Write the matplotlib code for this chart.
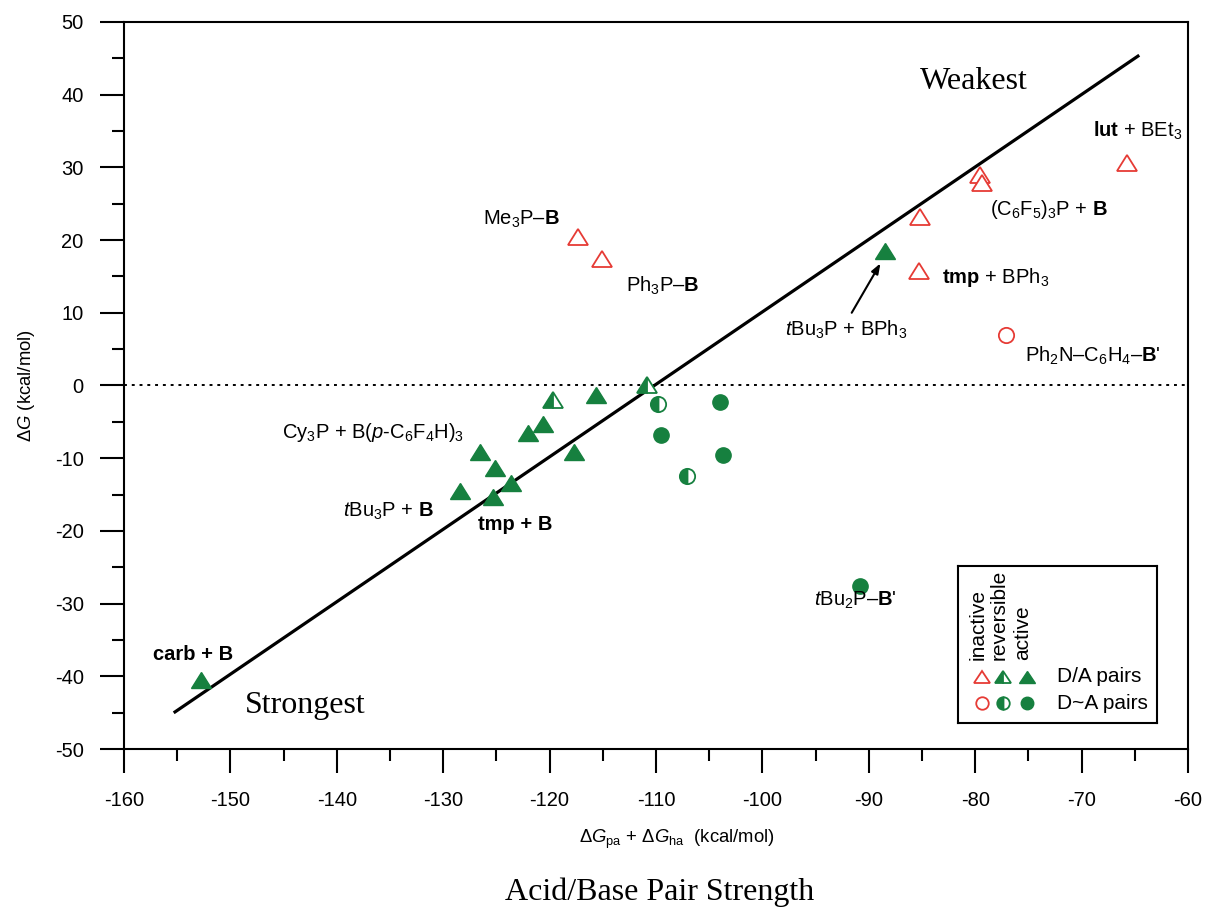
import matplotlib
matplotlib.use("Agg")
import matplotlib.pyplot as plt
from matplotlib.markers import MarkerStyle
from matplotlib.transforms import Affine2D

#--------------------------------------------------------
# data

# D/A pairs (triangles)
inactiveDA_x = [-117.3, -115.1, -85.2, -79.5, -79.4, -65.7, -85.3]
inactiveDA_y = [20.4, 17.4, 23.2, 29.0, 27.9, 30.6, 15.7]

reversibleDA_x = [-119.7, -110.8]
reversibleDA_y = [-2.0, 0.1]

activeDA_x = [-88.5, -115.6, -120.6, -122.0, -126.5, -117.7, -125.1, -123.6, -128.4, -125.3, -152.8]
activeDA_y = [18.5, -1.3, -5.3, -6.6, -9.2, -9.2, -11.4, -13.4, -14.5, -15.4, -40.5]

# D~A pairs (circles)
inactiveDtA_x = [-77.1]
inactiveDtA_y = [6.9]

reversibleDtA_x = [-109.8, -107.1]
reversibleDtA_y = [-2.5, -12.4]

activeDtA_x = [-109.5, -104.0, -103.7, -90.8]
activeDtA_y = [-6.8, -2.3, -9.6, -27.6]

# correlation line
line_x = [-155.2, -64.7]
line_y = [-44.9, 45.3]

xTicks = list(range(-160, -59, 10))
yTicks = list(range(-50, 51, 10))

#--------------------------------------------------------

green = "#16803f"
red = "#e63b35"

plt.rcParams['font.family'] = ['Liberation Sans', 'DejaVu Sans']
plt.rcParams['axes.unicode_minus'] = False
plt.rcParams['mathtext.fontset'] = 'custom'
plt.rcParams['mathtext.rm'] = 'Liberation Sans'
plt.rcParams['mathtext.it'] = 'Liberation Sans:italic'
plt.rcParams['mathtext.bf'] = 'Liberation Sans:bold'
plt.rcParams['mathtext.sf'] = 'Liberation Sans'

FS = 14.5        # annotations and tick labels
LABEL_FS = 13.3  # axis labels
LEG_FS = 15      # legend text
SERIF_FS = 23

fig = plt.figure(figsize=(12.07, 9.07), dpi=100)
ax = fig.add_axes([0.1027, 0.1742, 0.8815, 0.8016])

flat = Affine2D().scale(1.0, 0.85)
triFull = MarkerStyle('^', fillstyle='full', transform=flat)
triHalf = MarkerStyle('^', fillstyle='left', transform=flat)
circFull = MarkerStyle('o', fillstyle='full')
circHalf = MarkerStyle('o', fillstyle='left')

# zero line and correlation line
ax.axhline(0, color='k', lw=1.4, ls=(0, (1.5, 2.5)), zorder=1)
ax.plot(line_x, line_y, color='k', lw=2.3, zorder=2)

ax.plot(inactiveDA_x, inactiveDA_y, ls='none', marker=triFull, markersize=14,
        markerfacecolor='white', markeredgecolor=red, markeredgewidth=1.3, zorder=3)
ax.plot(inactiveDtA_x, inactiveDtA_y, ls='none', marker=circFull, markersize=11,
        markerfacecolor='white', markeredgecolor=red, markeredgewidth=1.3, zorder=3)
ax.plot(reversibleDA_x, reversibleDA_y, ls='none', marker=triHalf, markersize=14,
        markerfacecolor=green, markerfacecoloralt='white', markeredgecolor=green,
        markeredgewidth=1.3, zorder=3)
ax.plot(reversibleDtA_x, reversibleDtA_y, ls='none', marker=circHalf, markersize=11,
        markerfacecolor=green, markerfacecoloralt='white', markeredgecolor=green,
        markeredgewidth=1.3, zorder=3)
ax.plot(activeDA_x, activeDA_y, ls='none', marker=triFull, markersize=14,
        markerfacecolor=green, markeredgecolor=green, markeredgewidth=1.0, zorder=3)
ax.plot(activeDtA_x, activeDtA_y, ls='none', marker=circFull, markersize=11,
        markerfacecolor=green, markeredgecolor=green, markeredgewidth=1.0, zorder=3)

# axes
ax.set_xlim(-160, -60)
ax.set_ylim(-50, 50)
ax.set_xticks(xTicks)
ax.set_yticks(yTicks)
ax.set_xticks([t + 5 for t in xTicks[:-1]], minor=True)
ax.set_yticks([t + 5 for t in yTicks[:-1]], minor=True)
ax.tick_params(which='major', direction='out', length=17, width=1.5, labelsize=FS, pad=13)
ax.tick_params(which='minor', direction='out', length=8.5, width=1.5)
ax.tick_params(axis='y', which='major', pad=12)
for s in ax.spines.values():
    s.set_linewidth(1.5)

ax.set_xlabel(r"Δ$G_{\mathrm{pa}}$ + Δ$G_{\mathrm{ha}}$  (kcal/mol)", fontsize=LABEL_FS)
ax.xaxis.set_label_coords(0.52, -0.108)
ax.xaxis.label.set_va('top')
ax.set_ylabel(r"Δ$G$ (kcal/mol)", fontsize=LABEL_FS)
ax.yaxis.set_label_coords(-0.082, 0.5)

# annotations
serif = 'Liberation Serif'
ax.text(-85.2, 40.8, "Weakest", family=serif, fontsize=SERIF_FS)
ax.text(-148.6, -45.0, "Strongest", family=serif, fontsize=SERIF_FS)

ax.text(-68.9, 34.2, r"$\mathbf{lut}$ + BEt$_3$", fontsize=FS)
ax.text(-78.6, 23.5, r"(C$_6$F$_5$)$_3$P + $\mathbf{B}$", fontsize=FS)
ax.text(-126.3, 22.1, r"Me$_3$P–$\mathbf{B}$", fontsize=FS)
ax.text(-112.8, 12.9, r"Ph$_3$P–$\mathbf{B}$", fontsize=FS)
ax.text(-83.1, 14.1, r"$\mathbf{tmp}$ + BPh$_3$", fontsize=FS)
ax.text(-75.3, 3.3, r"Ph$_2$N–C$_6$H$_4$–$\mathbf{B}$'", fontsize=FS)
ax.text(-145.1, -7.2, r"Cy$_3$P + B($p$-C$_6$F$_4$H)$_3$", fontsize=FS)
ax.text(-139.4, -18.0, r"$t$Bu$_3$P + $\mathbf{B}$", fontsize=FS)
ax.text(-126.7, -19.9, "tmp + B", fontsize=FS, fontweight='bold')
ax.text(-157.3, -37.8, "carb + B", fontsize=FS, fontweight='bold')
ax.text(-95.1, -30.3, r"$t$Bu$_2$P–$\mathbf{B}$'", fontsize=FS)
ax.text(-97.9, 6.9, r"$t$Bu$_3$P + BPh$_3$", fontsize=FS)
ax.annotate("", xy=(-88.9, 16.8), xytext=(-91.6, 10.0),
            arrowprops=dict(arrowstyle='-|>,head_length=0.6,head_width=0.22',
                            color='k', lw=1.5, shrinkA=0, shrinkB=0))

# legend box drawn in an inset
leg = ax.inset_axes([0.7838, 0.0358, 0.187, 0.216])
leg.set_xlim(0, 1)
leg.set_ylim(0, 1)
leg.set_xticks([])
leg.set_yticks([])
for s in leg.spines.values():
    s.set_linewidth(1.5)
legCols = [0.12, 0.225, 0.345]
legRows = [0.293, 0.127]
headers = ["inactive", "reversible", "active"]
for xc, h in zip(legCols, headers):
    leg.text(xc - 0.02, 0.40, h, rotation=90, ha='center', va='bottom', fontsize=LEG_FS)
leg.plot([legCols[0]], [legRows[0]], ls='none', marker=triFull, markersize=11,
         markerfacecolor='white', markeredgecolor=red, markeredgewidth=1.3)
leg.plot([legCols[1]], [legRows[0]], ls='none', marker=triHalf, markersize=11,
         markerfacecolor=green, markerfacecoloralt='white', markeredgecolor=green,
         markeredgewidth=1.3)
leg.plot([legCols[2]], [legRows[0]], ls='none', marker=triFull, markersize=11,
         markerfacecolor=green, markeredgecolor=green)
leg.plot([legCols[0]], [legRows[1]], ls='none', marker=circFull, markersize=9,
         markerfacecolor='white', markeredgecolor=red, markeredgewidth=1.3)
leg.plot([legCols[1]], [legRows[1]], ls='none', marker=circHalf, markersize=9,
         markerfacecolor=green, markerfacecoloralt='white', markeredgecolor=green,
         markeredgewidth=1.3)
leg.plot([legCols[2]], [legRows[1]], ls='none', marker=circFull, markersize=9,
         markerfacecolor=green, markeredgecolor=green)
leg.text(0.497, legRows[0], "D/A pairs", va='center', fontsize=LEG_FS)
leg.text(0.497, legRows[1], "D~A pairs", va='center', fontsize=LEG_FS)

fig.text(660 / 1207, 1 - 900 / 907, "Acid/Base Pair Strength", family=serif,
         fontsize=SERIF_FS, ha='center', va='baseline')

plt.savefig("out.png", dpi=100)
